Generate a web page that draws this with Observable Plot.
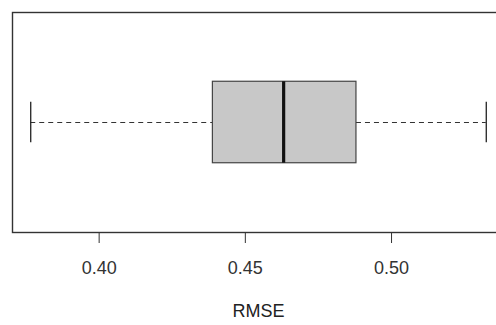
<!DOCTYPE html>
<html>
<head>
<meta charset="utf-8">
<script src="https://cdn.jsdelivr.net/npm/d3@7"></script>
<script src="https://cdn.jsdelivr.net/npm/@observablehq/plot@0.6"></script>
<style>
  html, body { margin: 0; padding: 0; background: #fff; overflow: hidden; }
  #chart { width: 496px; height: 325px; overflow: hidden; }
  #chart svg { max-width: none !important; width: 510px !important; height: 325px !important; display: block; }
</style>
</head>
<body>
<div id="chart"></div>
<script>
// Boxplot statistics (RMSE)
const variableName = ["RMSE"];
const whiskerLow = [0.3766];
const quartile1 = [0.4389];
const medianValue = [0.4631];
const quartile3 = [0.4880];
const whiskerHigh = [0.5324];
const xTicks = [0.40, 0.45, 0.50];

const rows = variableName.map((name, i) => ({
  name,
  lo: whiskerLow[i], q1: quartile1[i], med: medianValue[i], q3: quartile3[i], hi: whiskerHigh[i],
  pos: i + 1
}));

// R-style axis: data range extended by 4% on each side
const lo = d3.min(whiskerLow), hi = d3.max(whiskerHigh);
const pad = (hi - lo) * 0.04;

const chart = Plot.plot({
  width: 510,
  height: 325,
  marginLeft: 12,
  marginRight: 6,
  marginTop: 12,
  marginBottom: 93,
  style: { fontFamily: "Liberation Sans, Arial, sans-serif", fontSize: "18px", color: "#333", background: "#fff" },
  x: { domain: [lo - pad, hi + pad], ticks: xTicks, tickFormat: d3.format(".2f"), tickSize: 11, tickPadding: 18, label: null },
  y: { domain: [0.46, 1.54], axis: null },
  marks: [
    Plot.frame({ stroke: "#333", strokeWidth: 1.4 }),
    // dashed whiskers
    Plot.ruleY(rows, { y: "pos", x1: "lo", x2: "q1", stroke: "#333", strokeWidth: 1.1, strokeDasharray: "5,4" }),
    Plot.ruleY(rows, { y: "pos", x1: "q3", x2: "hi", stroke: "#333", strokeWidth: 1.1, strokeDasharray: "5,4" }),
    // staples
    Plot.ruleX(rows, { x: "lo", y1: d => d.pos - 0.1, y2: d => d.pos + 0.1, stroke: "#222", strokeWidth: 1.3 }),
    Plot.ruleX(rows, { x: "hi", y1: d => d.pos - 0.1, y2: d => d.pos + 0.1, stroke: "#222", strokeWidth: 1.3 }),
    // box
    Plot.rect(rows, { x1: "q1", x2: "q3", y1: d => d.pos - 0.2, y2: d => d.pos + 0.2, fill: "#c8c8c8", stroke: "#444", strokeWidth: 1.2 }),
    // median
    Plot.ruleX(rows, { x: "med", y1: d => d.pos - 0.2, y2: d => d.pos + 0.2, stroke: "#111", strokeWidth: 3.2 }),
    // axis title
    Plot.text(variableName, { x: () => (lo + hi) / 2, frameAnchor: "bottom", dy: 84, text: d => d, fill: "#222", fontSize: 18 })
  ]
});
document.getElementById("chart").appendChild(chart);
</script>
</body>
</html>
